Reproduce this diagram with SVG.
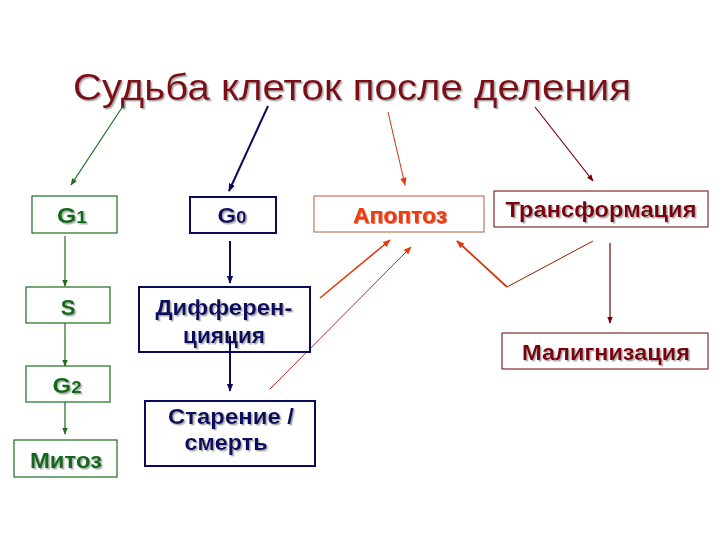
<svg xmlns="http://www.w3.org/2000/svg" width="720" height="540" viewBox="0 0 720 540">
<defs>
<style>
.t{font-family:"Liberation Sans",Arial,sans-serif;font-weight:bold;text-anchor:middle;font-size:22px}
.g{fill:#0b6b16}
.b{fill:#10105e}
.box{fill:#fff}
.gr{stroke:#1d6b1d;stroke-width:1.2}
.bl{stroke:#0a0a5a;stroke-width:2}
line,polyline{fill:none}
</style>
<filter id="sh" x="-10%" y="-20%" width="130%" height="160%">
<feDropShadow dx="1.5" dy="1.5" stdDeviation="0.6" flood-color="#999" flood-opacity="0.8"/>
</filter>
<filter id="shr" x="-10%" y="-20%" width="130%" height="160%">
<feDropShadow dx="1" dy="1" stdDeviation="0.5" flood-color="#c02000" flood-opacity="0.6"/>
</filter>
<marker id="mg" viewBox="0 0 10 10" refX="9" refY="5" markerWidth="7" markerHeight="7" orient="auto" markerUnits="userSpaceOnUse"><path d="M0,1 L10,5 L0,9 z" fill="#1d6b1d"/></marker>
<marker id="mb" viewBox="0 0 10 10" refX="9" refY="5" markerWidth="8" markerHeight="8" orient="auto" markerUnits="userSpaceOnUse"><path d="M0,1 L10,5 L0,9 z" fill="#0a0a5a"/></marker>
<marker id="mr" viewBox="0 0 10 10" refX="9" refY="5" markerWidth="8" markerHeight="8" orient="auto" markerUnits="userSpaceOnUse"><path d="M0,1 L10,5 L0,9 z" fill="#e03a10"/></marker>
<marker id="md" viewBox="0 0 10 10" refX="9" refY="5" markerWidth="7" markerHeight="7" orient="auto" markerUnits="userSpaceOnUse"><path d="M0,1 L10,5 L0,9 z" fill="#7a0000"/></marker>
</defs>
<rect width="720" height="540" fill="#fff"/>
<text x="352" y="100" font-family="'Liberation Sans',Arial,sans-serif" font-size="37" fill="#7d0a14" text-anchor="middle" textLength="558" lengthAdjust="spacingAndGlyphs" filter="url(#sh)">Судьба клеток после деления</text>
<g id="connectors">
<line x1="123" y1="106" x2="71" y2="185" stroke="#1d6b1d" stroke-width="1.2" marker-end="url(#mg)"/>
<line x1="268" y1="106" x2="229" y2="191" stroke="#0a0a5a" stroke-width="2" marker-end="url(#mb)"/>
<line x1="388" y1="112" x2="405" y2="185" stroke="#d03010" stroke-width="1" marker-end="url(#mr)"/>
<line x1="535" y1="107" x2="593" y2="181" stroke="#7a0000" stroke-width="1.2" marker-end="url(#md)"/>
<line x1="65" y1="236" x2="65" y2="286" stroke="#1d6b1d" stroke-width="1.2" marker-end="url(#mg)"/>
<line x1="65" y1="323" x2="65" y2="366" stroke="#1d6b1d" stroke-width="1.2" marker-end="url(#mg)"/>
<line x1="65" y1="402" x2="65" y2="434" stroke="#1d6b1d" stroke-width="1.2" marker-end="url(#mg)"/>
<line x1="230" y1="241" x2="230" y2="283" stroke="#0a0a5a" stroke-width="2" marker-end="url(#mb)"/>
<line x1="230" y1="336" x2="230" y2="391" stroke="#0a0a5a" stroke-width="2" marker-end="url(#mb)"/>
<line x1="320" y1="298" x2="390" y2="240" stroke="#e03a10" stroke-width="1.6" marker-end="url(#mr)"/>
<line x1="270" y1="389" x2="411" y2="247" stroke="#c02a20" stroke-width="1" marker-end="url(#mr)"/>
<line x1="593" y1="241" x2="507" y2="287" stroke="#8a2000" stroke-width="1"/>
<line x1="507" y1="287" x2="457" y2="241" stroke="#d03a10" stroke-width="1.8" marker-end="url(#mr)"/>
<line x1="610" y1="243" x2="610" y2="323" stroke="#7a0000" stroke-width="1.2" marker-end="url(#md)"/>
</g>
<g id="n-g1"><rect class="box gr" x="32" y="196" width="85" height="37"/><text class="t g" x="72" y="223" filter="url(#sh)" textLength="30" lengthAdjust="spacingAndGlyphs">G<tspan font-size="17">1</tspan></text></g>
<g id="n-s"><rect class="box gr" x="26" y="287" width="84" height="36"/><text class="t g" x="68" y="315" filter="url(#sh)">S</text></g>
<g id="n-g2"><rect class="box gr" x="26" y="366" width="84" height="36"/><text class="t g" x="67" y="393" filter="url(#sh)" textLength="29" lengthAdjust="spacingAndGlyphs">G<tspan font-size="17">2</tspan></text></g>
<g id="n-mitoz"><rect class="box gr" x="14" y="440" width="103" height="37"/><text class="t g" x="66" y="468" filter="url(#sh)" textLength="72" lengthAdjust="spacingAndGlyphs">Митоз</text></g>
<g id="n-g0"><rect class="box bl" x="190" y="197" width="86" height="36"/><text class="t b" x="232" y="223" filter="url(#sh)" textLength="29" lengthAdjust="spacingAndGlyphs">G<tspan font-size="17">0</tspan></text></g>
<g id="n-diff"><rect class="box bl" x="139" y="287" width="171" height="65"/><text class="t b" x="224" y="315" filter="url(#sh)" textLength="137" lengthAdjust="spacingAndGlyphs">Дифферен-</text><text class="t b" x="224" y="343" filter="url(#sh)" textLength="82" lengthAdjust="spacingAndGlyphs">цияция</text></g>
<line x1="230" y1="336" x2="230" y2="352" stroke="#0a0a5a" stroke-width="2"/>
<g id="n-star"><rect class="box bl" x="145" y="401" width="170" height="65"/><text class="t b" x="231" y="424" filter="url(#sh)" textLength="126" lengthAdjust="spacingAndGlyphs">Старение /</text><text class="t b" x="226" y="450" filter="url(#sh)" textLength="83" lengthAdjust="spacingAndGlyphs">смерть</text></g>
<g id="n-apop"><rect class="box" x="314" y="196" width="170" height="36" stroke="#b06040" stroke-width="1"/><text class="t" x="400" y="223" fill="#f03a10" filter="url(#shr)" textLength="94" lengthAdjust="spacingAndGlyphs">Апоптоз</text></g>
<g id="n-trans"><rect class="box" x="494" y="191" width="214" height="36" stroke="#6a0000" stroke-width="1"/><text class="t" x="601" y="217" fill="#7d0010" filter="url(#sh)" textLength="191" lengthAdjust="spacingAndGlyphs">Трансформация</text></g>
<g id="n-malig"><rect class="box" x="502" y="333" width="206" height="36" stroke="#6a0000" stroke-width="1"/><text class="t" x="606" y="360" fill="#7d0010" filter="url(#sh)" textLength="168" lengthAdjust="spacingAndGlyphs">Малигнизация</text></g>
</svg>
